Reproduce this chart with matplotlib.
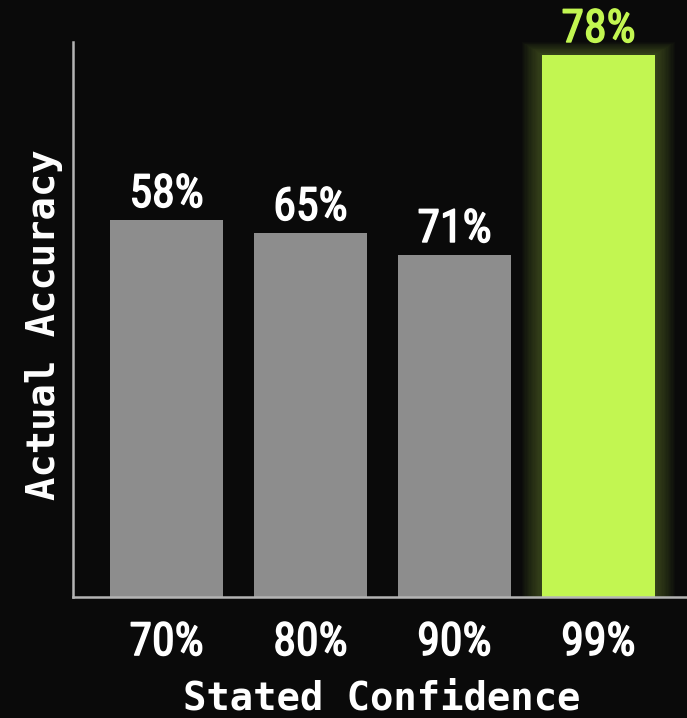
import matplotlib
matplotlib.use('agg')
import matplotlib.pyplot as plt
import matplotlib.patheffects as pe
from matplotlib import font_manager
import numpy as np

# data
categories = ['70%', '80%', '90%', '99%']
accuracy_labels = ['58%', '65%', '71%', '78%']
# bar heights as drawn in the picture (pixels above the x axis)
bar_heights = [377, 364, 342, 542]
highlight = [False, False, False, True]

bg = '#0a0a0a'
gray = '#8d8d8d'
lime = '#c2f651'
axis_col = '#b4b4b4'

# condensed sans for the numbers if we have it
num_font = ['DejaVu Sans']
for f in ['Liberation Sans Narrow', 'Roboto Condensed', 'Open Sans Condensed']:
    try:
        font_manager.findfont(f, fallback_to_default=False)
        num_font = [f, 'DejaVu Sans']
        break
    except Exception:
        pass
mono_font = ['DejaVu Sans Mono']
num_size = 33 if num_font[0] != 'DejaVu Sans' else 25

fig = plt.figure(figsize=(6.87, 7.18), dpi=100, facecolor=bg)
ax = fig.add_axes([73/687., 1-597/718., 1-73/687., (597-42)/718.])
ax.set_facecolor(bg)

x = np.arange(len(categories))
w = 0.78

# soft glow behind the highlighted bar
for i in range(len(x)):
    if highlight[i]:
        for k in range(16):
            grow = 0.009 * (k + 1)
            ax.bar(x[i], bar_heights[i] + grow * 90, width=w + grow * 2,
                   color=lime, alpha=0.02, zorder=1, linewidth=0)

cols = [lime if h else gray for h in highlight]
ax.bar(x, bar_heights, width=w, color=cols, zorder=2, linewidth=0)

for i in range(len(x)):
    c = lime if highlight[i] else 'white'
    ax.annotate(accuracy_labels[i], xy=(x[i], bar_heights[i]), xytext=(0, 9.4),
                textcoords='offset points', ha='center', va='baseline',
                fontsize=num_size, color=c, family=num_font, zorder=3,
                path_effects=[pe.withStroke(linewidth=1.1, foreground=c)])
    ax.annotate(categories[i], xy=(x[i], 0), xytext=(0, -41.8),
                xycoords=('data', 'axes fraction'), textcoords='offset points',
                ha='center', va='baseline', fontsize=num_size,
                color='white', family=num_font,
                path_effects=[pe.withStroke(linewidth=1.1, foreground='white')])

ax.set_xlim(-0.65, 3.615)
ax.set_ylim(0, 555)
ax.set_xticks([])
ax.set_yticks([])
for s in ['top', 'right']:
    ax.spines[s].set_visible(False)
for s in ['left', 'bottom']:
    ax.spines[s].set_color(axis_col)
    ax.spines[s].set_linewidth(1.8)
    ax.spines[s].set_zorder(4)

fig.text(382/687., 1-709/718., 'Stated Confidence', ha='center', va='baseline',
         fontsize=28, fontweight='bold', color='white', family=mono_font)
fig.text(55/687., 1-325/718., 'Actual Accuracy', ha='center', va='baseline',
         rotation=90, rotation_mode='anchor',
         fontsize=28, fontweight='bold', color='white', family=mono_font)

fig.savefig('out.png', dpi=100, facecolor=bg)
plt.close(fig)
